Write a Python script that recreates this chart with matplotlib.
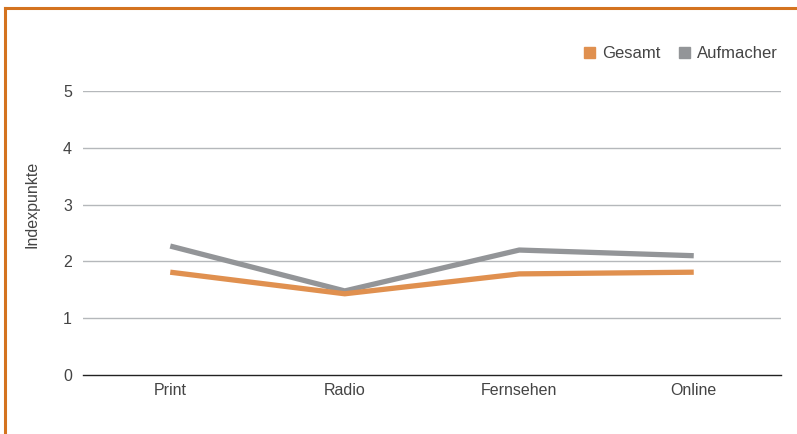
import matplotlib
from matplotlib import pyplot as plt
from matplotlib.lines import Line2D
from matplotlib.patches import Patch

matplotlib.use('Agg')

categories = ['Print', 'Radio', 'Fernsehen', 'Online']
gesamt = [1.81, 1.43, 1.78, 1.81]
aufmacher = [2.27, 1.48, 2.20, 2.10]
y_ticks = [0, 1, 2, 3, 4, 5]

orange = '#E0904F'
grey = '#939598'
frame_color = '#D4731F'
text_color = '#444444'

plt.rcParams['font.family'] = ['Liberation Sans Narrow', 'Liberation Sans', 'DejaVu Sans']

fig = plt.figure(figsize=(7.97, 4.34), dpi=100)
ax = fig.add_axes([83 / 797, 1 - 375 / 434, 698 / 797, (375 - 91) / 434])

x = list(range(len(categories)))
ax.plot(x, aufmacher, color=grey, lw=3.8, solid_capstyle='butt', zorder=3)
ax.plot(x, gesamt, color=orange, lw=3.8, solid_capstyle='butt', zorder=4)

ax.set_xlim(-0.5, len(categories) - 0.5)
ax.set_ylim(0, 5)
ax.set_yticks(y_ticks)
ax.set_xticks(x)
ax.set_xticklabels(categories, fontsize=11.5, color=text_color)
ax.tick_params(axis='y', length=0, pad=8, labelsize=11.5, labelcolor=text_color)
ax.tick_params(axis='x', length=0, pad=6)
for t in y_ticks[1:]:
    ax.axhline(t, color='#B5B8BB', lw=1.0, zorder=1)
for s in ['top', 'right', 'left']:
    ax.spines[s].set_visible(False)
ax.spines['bottom'].set_color('#222222')
ax.spines['bottom'].set_linewidth(1.0)
ax.set_ylabel('Indexpunkte', fontsize=11.5, color=text_color)
ax.yaxis.set_label_coords(-0.063, 0.6)

handles = [Patch(color=orange, label='Gesamt'), Patch(color=grey, label='Aufmacher')]
fig.legend(handles=handles, loc='upper right', bbox_to_anchor=(0.995, 0.928), ncol=2,
           frameon=False, fontsize=12, handlelength=0.65, handleheight=0.65,
           handletextpad=0.45, columnspacing=1.1, labelcolor=text_color)

# orange frame at top and left
fig.add_artist(Line2D([5 / 797, 1], [1 - 8 / 434, 1 - 8 / 434], color=frame_color, lw=2.2,
                      transform=fig.transFigure))
fig.add_artist(Line2D([5 / 797, 5 / 797], [0, 1 - 8 / 434], color=frame_color, lw=2.2,
                      transform=fig.transFigure))

plt.savefig('out.png', format='png')
